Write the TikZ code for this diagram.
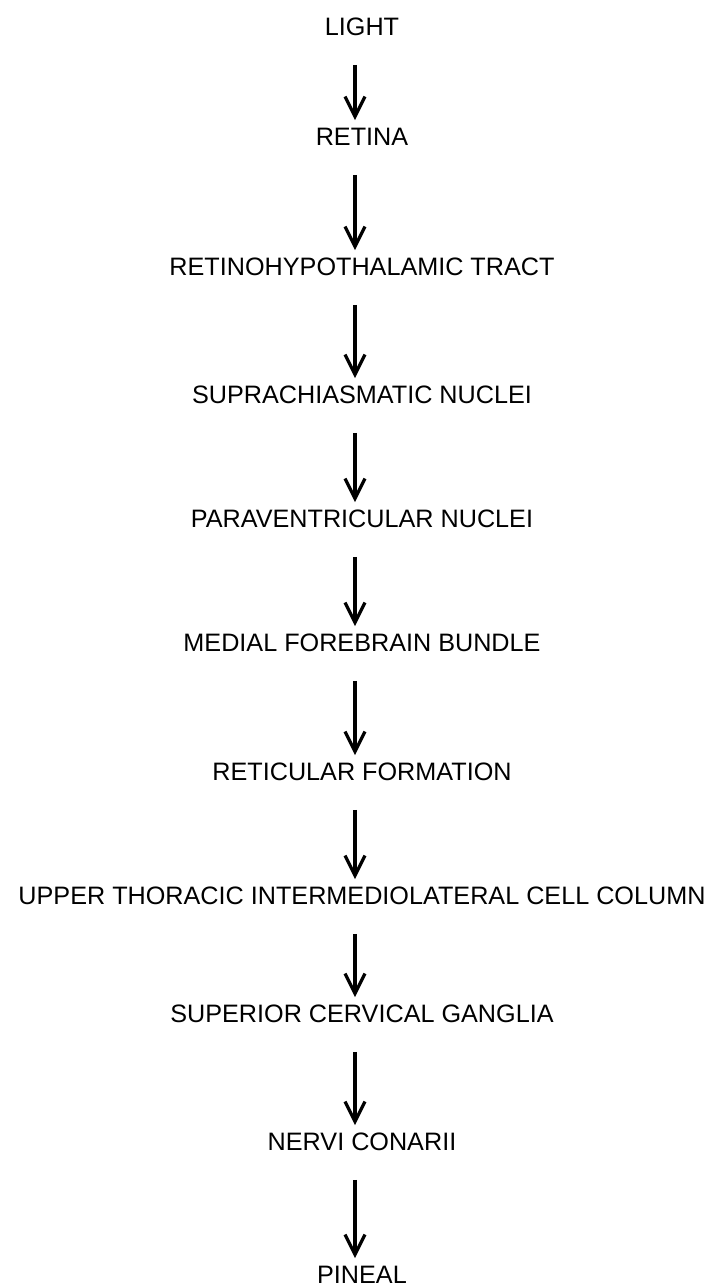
\documentclass[tikz,border=0pt]{standalone}
\usepackage{fontspec}
\setmainfont{Liberation Sans}
\usepackage{tikz}
\usetikzlibrary{arrows.meta, positioning}

\begin{document}
\begin{tikzpicture}[
    font=\fontsize{12.6}{14}\selectfont,
    on grid,
    stage/.style={inner sep=0pt, text height=9pt, text depth=0pt, align=center},
    arrow/.style={-{Straight Barb[length=10pt, width=10pt]}, line width=1.6pt,
        shorten <=14.5pt, shorten >=3.5pt}
]
\useasboundingbox (0,0) rectangle (363pt,-643.5pt);

\node[stage] (light) at (181pt,-13.25pt) {LIGHT};
\node[stage, below=55pt of light] (retina) {RETINA};
\node[stage, below=65pt of retina] (rht) {RETINOHYPOTHALAMIC TRACT};
\node[stage, below=64pt of rht] (scn) {SUPRACHIASMATIC NUCLEI};
\node[stage, below=62pt of scn] (pvn) {PARAVENTRICULAR NUCLEI};
\node[stage, below=62pt of pvn] (mfb) {MEDIAL FOREBRAIN BUNDLE};
\node[stage, below=64.5pt of mfb] (retic) {RETICULAR FORMATION};
\node[stage, below=62pt of retic] (iml) {UPPER THORACIC INTERMEDIOLATERAL CELL COLUMN};
\node[stage, below=59pt of iml] (scg) {SUPERIOR CERVICAL GANGLIA};
\node[stage, below=64pt of scg] (nervi) {NERVI CONARII};
\node[stage, below=66.5pt of nervi] (pineal) {PINEAL};

\draw[arrow] ([xshift=-3.5pt]light.south) -- ([xshift=-3.5pt]retina.north);
\draw[arrow] ([xshift=-3.5pt]retina.south) -- ([xshift=-3.5pt]rht.north);
\draw[arrow] ([xshift=-3.5pt]rht.south) -- ([xshift=-3.5pt]scn.north);
\draw[arrow] ([xshift=-3.5pt]scn.south) -- ([xshift=-3.5pt]pvn.north);
\draw[arrow] ([xshift=-3.5pt]pvn.south) -- ([xshift=-3.5pt]mfb.north);
\draw[arrow] ([xshift=-3.5pt]mfb.south) -- ([xshift=-3.5pt]retic.north);
\draw[arrow] ([xshift=-3.5pt]retic.south) -- ([xshift=-3.5pt]iml.north);
\draw[arrow] ([xshift=-3.5pt]iml.south) -- ([xshift=-3.5pt]scg.north);
\draw[arrow] ([xshift=-3.5pt]scg.south) -- ([xshift=-3.5pt]nervi.north);
\draw[arrow] ([xshift=-3.5pt]nervi.south) -- ([xshift=-3.5pt]pineal.north);

\end{tikzpicture}
\end{document}
